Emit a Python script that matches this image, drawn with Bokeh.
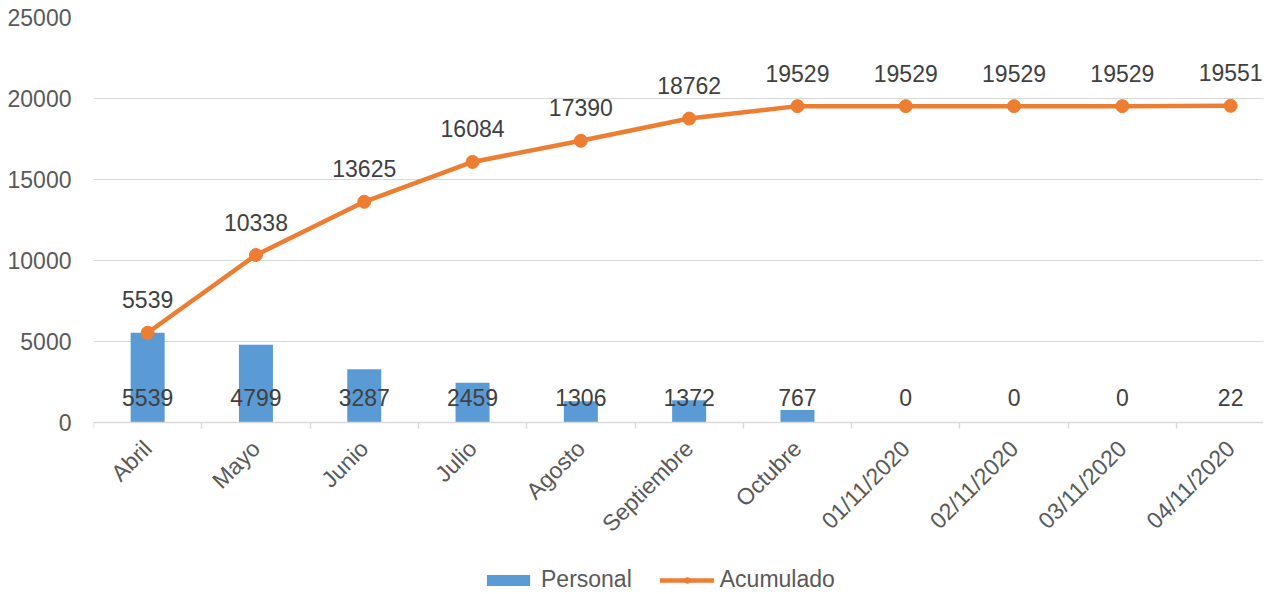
import math
from bokeh.plotting import figure
from bokeh.models import ColumnDataSource, FixedTicker, Legend, LegendItem, Range1d
from bokeh.core.properties import value
from bokeh.embed import file_html
from bokeh.resources import INLINE

categories = ["Abril", "Mayo", "Junio", "Julio", "Agosto", "Septiembre", "Octubre",
              "01/11/2020", "02/11/2020", "03/11/2020", "04/11/2020"]
personal = [5539, 4799, 3287, 2459, 1306, 1372, 767, 0, 0, 0, 22]
acumulado = [5539, 10338, 13625, 16084, 17390, 18762, 19529, 19529, 19529, 19529, 19551]
y_ticks = [0, 5000, 10000, 15000, 20000, 25000]

FONT = "Liberation Sans"
W, H = 1263, 594
frame_left = 93
top_px = 17          # frame top
zero_px = 422        # where y=0 sits
cat_px = 108.3
n = len(categories)
xs = list(range(n))
x_end = -0.5 + (W - frame_left) / cat_px
y_max = y_ticks[-1]
y_min = -(H - zero_px) * y_max / (zero_px - top_px)

src = ColumnDataSource(dict(
    x=xs, personal=personal, acumulado=acumulado,
    plabel=[str(v) for v in personal], alabel=[str(v) for v in acumulado],
    zero=[0] * n,
))

p = figure(width=W, height=H, output_backend="svg", toolbar_location=None,
           x_range=Range1d(-0.5, x_end), y_range=Range1d(y_min, y_max),
           min_border_left=frame_left, min_border_right=0, min_border_top=top_px,
           min_border_bottom=0)
p.outline_line_color = None
p.background_fill_color = "white"
p.border_fill_color = "white"

bars = p.vbar(x="x", top="personal", bottom=0, width=0.314, source=src,
              fill_color="#5B9BD5", line_color=None)
line = p.line(x="x", y="acumulado", source=src, line_color="#ED7D31", line_width=4.5,
              line_cap="round", line_join="round")
pts = p.scatter(x="x", y="acumulado", source=src, size=13, fill_color="#ED7D31",
                line_color="#ED7D31")

p.text(x="x", y="zero", text="plabel", source=src, text_align="center",
       text_baseline="middle", y_offset=-25, text_font=value(FONT),
       text_font_size="23px", text_color="#404040")
p.text(x="x", y="acumulado", text="alabel", source=src, text_align="center",
       text_baseline="middle", y_offset=-33, text_font=value(FONT),
       text_font_size="23px", text_color="#404040")

# y axis
p.yaxis.ticker = FixedTicker(ticks=y_ticks)
p.yaxis.axis_line_color = None
p.yaxis.major_tick_line_color = None
p.yaxis.minor_tick_line_color = None
p.yaxis.major_tick_out = 0
p.yaxis.major_tick_in = 0
p.yaxis.minor_tick_out = 0
p.yaxis.major_label_standoff = 22
p.yaxis.major_label_text_font = FONT
p.yaxis.major_label_text_font_size = "23px"
p.yaxis.major_label_text_color = "#595959"

# x axis, pinned at y = 0
p.xaxis.fixed_location = 0
p.xaxis.ticker = FixedTicker(ticks=xs, minor_ticks=[i - 0.5 for i in range(n + 1)])
p.xaxis.major_label_overrides = {i: c for i, c in enumerate(categories)}
p.xaxis.major_label_orientation = math.pi / 4
p.xaxis.axis_line_color = "#D9D9D9"
p.xaxis.axis_line_width = 1.5
p.xaxis.major_tick_line_color = None
p.xaxis.major_tick_out = 0
p.xaxis.major_tick_in = 0
p.xaxis.minor_tick_line_color = "#D9D9D9"
p.xaxis.minor_tick_line_width = 1.5
p.xaxis.minor_tick_out = 6
p.xaxis.minor_tick_in = 0
p.xaxis.major_label_standoff = 16
p.xaxis.major_label_text_font = FONT
p.xaxis.major_label_text_font_size = "23px"
p.xaxis.major_label_text_color = "#595959"

p.xgrid.grid_line_color = None
p.ygrid.ticker = FixedTicker(ticks=y_ticks)
p.ygrid.grid_line_color = "#D9D9D9"
p.ygrid.grid_line_width = 1.2

legend = Legend(items=[LegendItem(label="Personal", renderers=[bars]),
                       LegendItem(label="Acumulado", renderers=[line, pts])],
                orientation="horizontal", location=(388, 1),
                padding=0, margin=0, spacing=28, label_standoff=6,
                glyph_width=54, glyph_height=14,
                border_line_color=None, background_fill_alpha=0,
                label_text_font=FONT, label_text_font_size="23px",
                label_text_color="#595959")
p.add_layout(legend, "center")

open("out.html", "w").write(file_html(p, INLINE))
